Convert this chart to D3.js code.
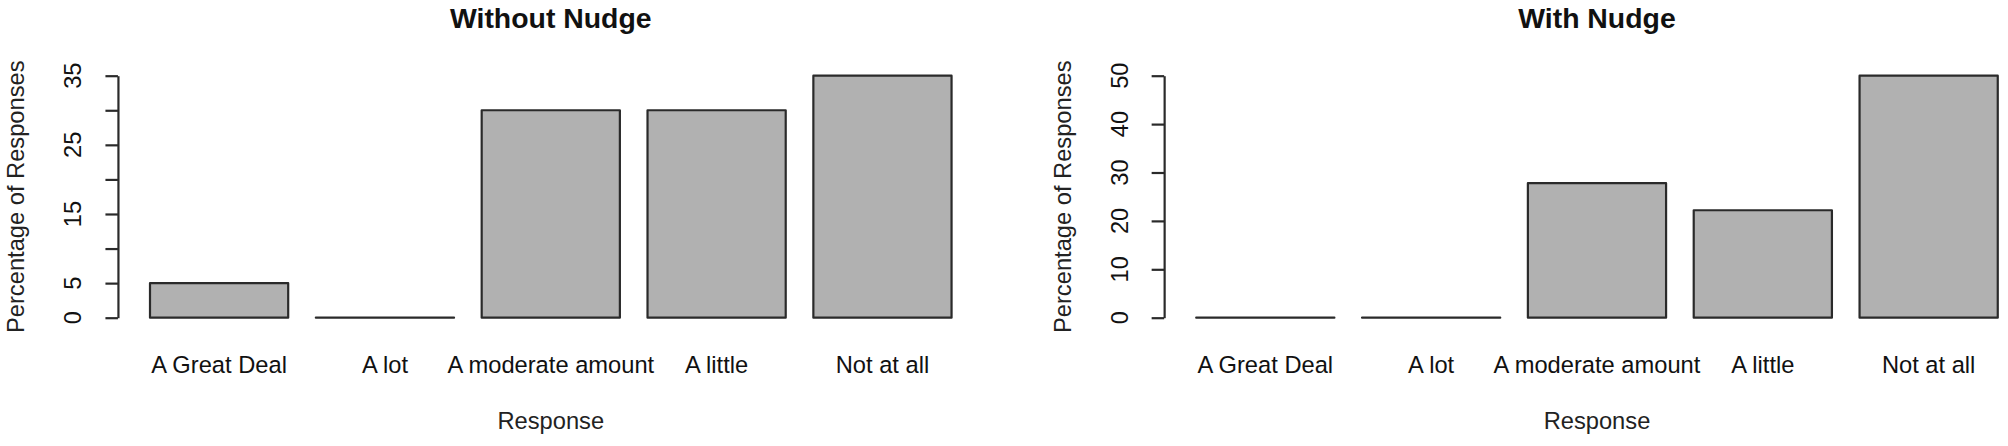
<!DOCTYPE html>
<html><head><meta charset="utf-8">
<script src="https://cdn.jsdelivr.net/npm/d3@7"></script>
<style>html,body{margin:0;padding:0;background:#fff;}svg{display:block;}</style>
</head><body>
<svg id="chart" width="2008" height="446"></svg>
<script>
const categories = ["A Great Deal", "A lot", "A moderate amount", "A little", "Not at all"];
const withoutNudge = [5, 0, 30, 30, 35];
const withNudge = [0, 0, 27.8, 22.2, 50];
const leftTicks = [0, 5, 10, 15, 20, 25, 30, 35];
const leftTickLabels = [0, 5, 15, 25, 35];
const rightTicks = [0, 10, 20, 30, 40, 50];
const rightTickLabels = [0, 10, 20, 30, 40, 50];
const titles = ["Without Nudge", "With Nudge"];
const xTitle = "Response";
const yTitle = "Percentage of Responses";

const svg = d3.select("#chart");
const FONT = "'Liberation Sans', Arial, Helvetica, sans-serif";
const unit = 138.2;
const panelDx = 1046.2;
const y0px = 317.7, yTop = 75.7;

function panel(dx, values, ticks, tickLabels, title) {
  const g = svg.append("g").attr("transform", `translate(${dx},0)`);
  const firstBar = 150;
  const x = d3.scaleBand().domain(categories)
    .range([firstBar, firstBar + 5.8 * unit]).paddingInner(1/6).paddingOuter(0);
  const plotL = firstBar - 0.232 * unit;
  const plotR = firstBar + 6.032 * unit;
  const plotC = (plotL + plotR) / 2;
  const y = d3.scaleLinear().domain([ticks[0], ticks[ticks.length - 1]]).range([y0px, yTop]);

  // bars (paths so zero-height bars still show their outline)
  g.selectAll("path.bar").data(values).join("path")
    .attr("class", "bar")
    .attr("d", (d, i) => {
      const x0 = x(categories[i]), x1 = x0 + x.bandwidth();
      return `M${x0},${y(0)}V${y(d)}H${x1}V${y(0)}Z`;
    })
    .attr("fill", "#b1b1b1")
    .attr("stroke", "#2a2a2a")
    .attr("stroke-width", 2.2)
    .attr("stroke-linejoin", "round");

  // y axis
  const ax = g.append("g").attr("transform", `translate(${plotL},0)`)
    .call(d3.axisLeft(y).tickValues(ticks).tickSize(12.5).tickSizeOuter(0).tickFormat(""));
  ax.selectAll("path,line").attr("stroke", "#2a2a2a").attr("stroke-width", 2.2);

  // tick labels rotated
  g.selectAll("text.ytl").data(tickLabels).join("text")
    .attr("class", "ytl")
    .attr("transform", d => `translate(${plotL - 36.5},${y(d)}) rotate(-90)`)
    .attr("text-anchor", "middle")
    .attr("font-family", FONT).attr("font-size", 23.7).attr("fill", "#111")
    .text(d => d);

  // x category labels
  g.selectAll("text.xtl").data(categories).join("text")
    .attr("class", "xtl")
    .attr("x", d => x(d) + x.bandwidth() / 2)
    .attr("y", 372.7)
    .attr("text-anchor", "middle")
    .attr("font-family", FONT).attr("font-size", 23.7).attr("fill", "#111")
    .text(d => d);

  // axis titles
  g.append("text").attr("x", plotC).attr("y", 429.3)
    .attr("text-anchor", "middle")
    .attr("font-family", FONT).attr("font-size", 23.7).attr("fill", "#222")
    .text(xTitle);
  g.append("text")
    .attr("transform", `translate(${plotL - 93.5},${(y0px + yTop) / 2}) rotate(-90)`)
    .attr("text-anchor", "middle")
    .attr("font-family", FONT).attr("font-size", 23.7).attr("fill", "#222")
    .text(yTitle);

  // title
  g.append("text").attr("x", plotC).attr("y", 28.3)
    .attr("text-anchor", "middle")
    .attr("font-family", FONT).attr("font-size", 28.4).attr("font-weight", "bold").attr("fill", "#111")
    .text(title);
}

panel(0, withoutNudge, leftTicks, leftTickLabels, titles[0]);
panel(panelDx, withNudge, rightTicks, rightTickLabels, titles[1]);
</script>
</body></html>
